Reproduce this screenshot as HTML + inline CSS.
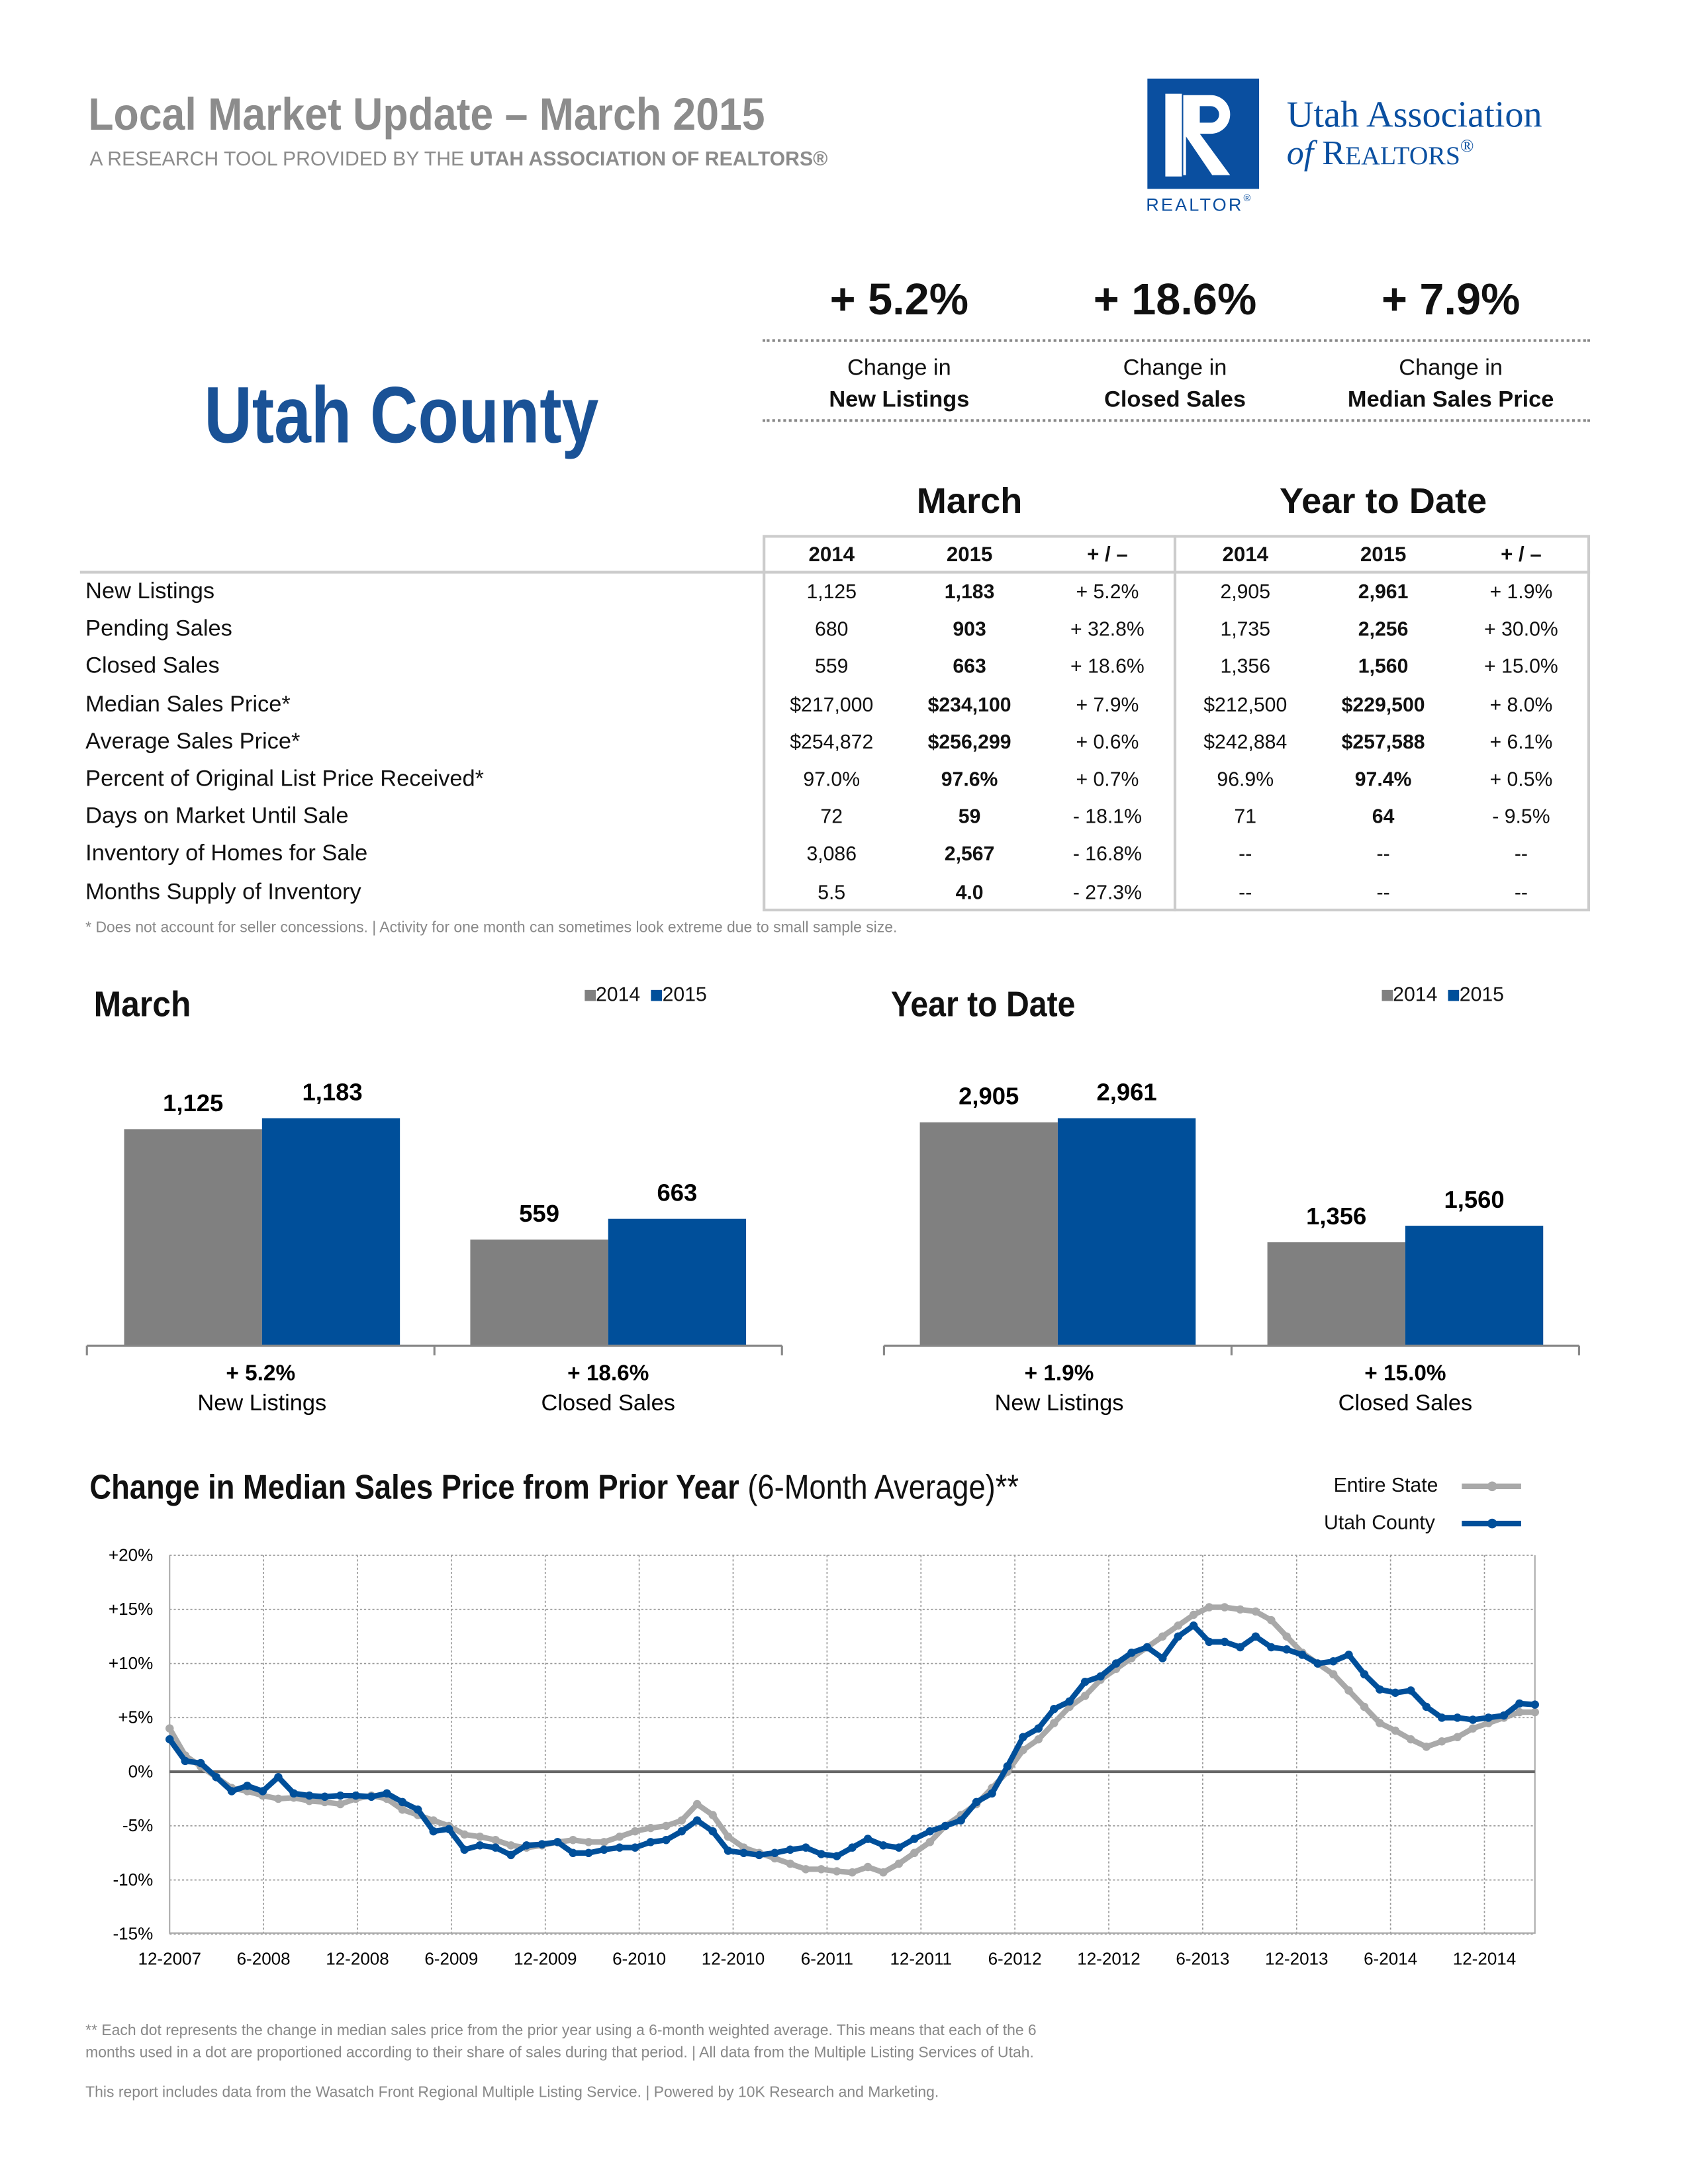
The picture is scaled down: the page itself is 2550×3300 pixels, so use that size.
<!DOCTYPE html>
<html><head><meta charset="utf-8">
<style>
html,body{margin:0;padding:0;background:#fff;}
body{width:2550px;height:3300px;overflow:hidden;}
#w{position:absolute;left:0;top:0;width:1224px;height:1584px;transform:scale(2.08333);transform-origin:0 0;font-family:"Liberation Sans",sans-serif;color:#111;}
.a{position:absolute;white-space:nowrap;}
.n{font-weight:bold;transform-origin:0 0;}
.c{transform:translateX(-50%);text-align:center;}
.row{position:absolute;left:62px;font-size:16.5px;}
.cell{position:absolute;font-size:14.5px;transform:translateX(-50%);white-space:nowrap;}
</style></head><body><div id="w">
<div class="a n" style="left:64px;top:64px;font-size:33px;color:#8c8c8c;transform:scaleX(0.91);">Local Market Update – March 2015</div>
<div class="a" style="left:65px;top:108px;font-size:14.5px;color:#8c8c8c;">A RESEARCH TOOL PROVIDED BY THE <b>UTAH ASSOCIATION OF REALTORS®</b></div>
<!-- logo -->
<div class="a" style="left:832px;top:57px;width:81px;height:80px;background:#0a4fa0;"></div>
<div class="a" style="left:845px;top:68px;width:34px;height:60px;border-left:12px solid #fff;box-sizing:border-box;"></div>
<svg class="a" style="left:832px;top:57px" width="81" height="80"><path d="M26 12 H46 a14 14 0 0 1 0 28 H38 L60 70 H47 L28 42 V70 H26Z" fill="#fff"/><path d="M38 20 H46 a6 6 0 0 1 0 12 H38Z" fill="#0a4fa0"/></svg>
<div class="a" style="left:831px;top:141px;font-size:13px;letter-spacing:1.5px;color:#0a4fa0;">REALTOR<span style="font-size:7px;vertical-align:top">®</span></div>
<div class="a" style="left:933px;top:68px;font-family:'Liberation Serif',serif;font-size:27px;color:#0a4fa0;">Utah Association</div>
<div class="a" style="left:933px;top:98px;font-family:'Liberation Serif',serif;font-size:25px;color:#0a4fa0;"><i>of</i> R<span style="font-size:19px">EALTORS</span><span style="font-size:13px;vertical-align:top">®</span></div>

<div class="a n" style="left:148px;top:268px;font-size:58px;color:#1a5296;transform:scaleX(0.83);">Utah County</div>
<div class="a c" style="left:652px;top:199px;font-size:32px;font-weight:bold;">+ 5.2%</div>
<div class="a c" style="left:852px;top:199px;font-size:32px;font-weight:bold;">+ 18.6%</div>
<div class="a c" style="left:1052px;top:199px;font-size:32px;font-weight:bold;">+ 7.9%</div>
<div class="a" style="left:553px;top:246px;width:600px;border-top:2px dotted #888;"></div>
<div class="a" style="left:553px;top:304px;width:600px;border-top:2px dotted #888;"></div>
<div class="a c" style="left:652px;top:256px;font-size:16.5px;line-height:23px;">Change in<br><b>New Listings</b></div>
<div class="a c" style="left:852px;top:256px;font-size:16.5px;line-height:23px;">Change in<br><b>Closed Sales</b></div>
<div class="a c" style="left:1052px;top:256px;font-size:16.5px;line-height:23px;">Change in<br><b>Median Sales Price</b></div>

<div class="a c" style="left:703px;top:348px;font-size:26px;font-weight:bold;">March</div>
<div class="a c" style="left:1003px;top:348px;font-size:26px;font-weight:bold;">Year to Date</div>
<div class="a" style="left:553px;top:388px;width:600px;height:273px;border:2px solid #ccc;box-sizing:border-box;"></div>
<div class="a" style="left:851px;top:388px;width:2px;height:273px;background:#ccc;"></div>
<div class="a" style="left:58px;top:414px;width:1095px;height:2px;background:#ccc;"></div>
<div id="tbl"></div>
<div class="a" style="left:62px;top:667px;font-size:11px;color:#888;">* Does not account for seller concessions.  |  Activity for one month can sometimes look extreme due to small sample size.</div>

<!-- bar charts -->
<div class="a n" style="left:68px;top:713px;font-size:26px;transform:scaleX(0.92);">March</div>
<div class="a n" style="left:646px;top:713px;font-size:26px;transform:scaleX(0.89);">Year to Date</div>
<div class="a" style="left:424px;top:714px;font-size:14.5px;"><span style="display:inline-block;width:8px;height:8px;background:#808080"></span>2014 <span style="display:inline-block;width:8px;height:8px;background:#004f9a;margin-left:4px"></span>2015</div>
<div class="a" style="left:1002px;top:714px;font-size:14.5px;"><span style="display:inline-block;width:8px;height:8px;background:#808080"></span>2014 <span style="display:inline-block;width:8px;height:8px;background:#004f9a;margin-left:4px"></span>2015</div>
<svg class="a" style="left:0;top:0" width="1224" height="1584">
<g fill="#808080"><rect x="90" y="819" width="100" height="157"/><rect x="341" y="899" width="100" height="77"/><rect x="667" y="814" width="100" height="162"/><rect x="919" y="901" width="100" height="75"/></g>
<g fill="#004f9a"><rect x="190" y="811" width="100" height="165"/><rect x="441" y="884" width="100" height="92"/><rect x="767" y="811" width="100" height="165"/><rect x="1019" y="889" width="100" height="87"/></g>
<g stroke="#888" stroke-width="1.5"><path d="M63 976H567M63 976v7M315 976v7M567 976v7M641 976H1145M641 976v7M893 976v7M1145 976v7"/></g>
<g font-family="Liberation Sans" font-weight="bold" font-size="17.5" text-anchor="middle">
<text x="140" y="806">1,125</text><text x="241" y="798">1,183</text><text x="391" y="886">559</text><text x="491" y="871">663</text>
<text x="717" y="801">2,905</text><text x="817" y="798">2,961</text><text x="969" y="888">1,356</text><text x="1069" y="876">1,560</text>
<text x="189" y="1001" font-size="16">+ 5.2%</text><text x="441" y="1001" font-size="16">+ 18.6%</text><text x="768" y="1001" font-size="16">+ 1.9%</text><text x="1019" y="1001" font-size="16">+ 15.0%</text>
</g>
<g font-family="Liberation Sans" font-size="16.5" text-anchor="middle">
<text x="190" y="1023">New Listings</text><text x="441" y="1023">Closed Sales</text><text x="768" y="1023">New Listings</text><text x="1019" y="1023">Closed Sales</text>
</g>
<g id="lc"></g>
</svg>
<div class="a n" style="left:65px;top:1065px;font-size:25px;transform:scaleX(0.87);">Change in Median Sales Price from Prior Year <span style="font-weight:normal;">(6-Month Average)**</span></div>
<div class="a" style="left:967px;top:1070px;font-size:14.5px;">Entire State</div>
<div class="a" style="left:960px;top:1097px;font-size:14.5px;">Utah County</div>
<div class="a" style="left:62px;top:1465px;font-size:11px;color:#888;line-height:16px;">** Each dot represents the change in median sales price from the prior year using a 6-month weighted average. This means that each of the 6<br>months used in a dot are proportioned according to their share of sales during that period.  |  All data from the Multiple Listing Services of Utah.</div>
<div class="a" style="left:62px;top:1512px;font-size:11px;color:#888;">This report includes data from the Wasatch Front Regional Multiple Listing Service.  |  Powered by 10K Research and Marketing.</div>
</div>
<script>
var rows=[["New Listings","1,125","1,183","+ 5.2%","2,905","2,961","+ 1.9%"],["Pending Sales","680","903","+ 32.8%","1,735","2,256","+ 30.0%"],["Closed Sales","559","663","+ 18.6%","1,356","1,560","+ 15.0%"],["Median Sales Price*","$217,000","$234,100","+ 7.9%","$212,500","$229,500","+ 8.0%"],["Average Sales Price*","$254,872","$256,299","+ 0.6%","$242,884","$257,588","+ 6.1%"],["Percent of Original List Price Received*","97.0%","97.6%","+ 0.7%","96.9%","97.4%","+ 0.5%"],["Days on Market Until Sale","72","59","- 18.1%","71","64","- 9.5%"],["Inventory of Homes for Sale","3,086","2,567","- 16.8%","--","--","--"],["Months Supply of Inventory","5.5","4.0","- 27.3%","--","--","--"]];
var cx=[603,703,803,903,1003,1103],h='';
["2014","2015","+ / –","2014","2015","+ / –"].forEach(function(t,i){h+='<div class="cell" style="left:'+cx[i]+'px;top:394px;font-weight:bold;font-size:15px">'+t+'</div>';});
rows.forEach(function(r,j){var y=420+j*27.2;h+='<div class="row" style="top:'+y+'px">'+r[0]+'</div>';for(var i=1;i<7;i++){h+='<div class="cell" style="left:'+cx[i-1]+'px;top:'+(y+2)+'px;'+((i==2||i==5)&&r[i]!='--'?'font-weight:bold':'')+'">'+r[i]+'</div>';}});
document.getElementById('tbl').innerHTML=h;
var uc=[3,1,0.8,-0.5,-1.8,-1.3,-1.8,-0.5,-2,-2.2,-2.3,-2.2,-2.2,-2.3,-2,-2.8,-3.5,-5.5,-5.3,-7.2,-6.8,-7,-7.7,-6.8,-6.7,-6.5,-7.5,-7.5,-7.2,-7,-7,-6.5,-6.3,-5.5,-4.5,-5.5,-7.3,-7.5,-7.7,-7.5,-7.2,-7,-7.6,-7.8,-7,-6.2,-6.8,-7,-6.2,-5.5,-5,-4.5,-2.8,-2,0.5,3.2,4,5.8,6.5,8.3,8.8,10,11,11.5,10.5,12.5,13.5,12,12,11.5,12.5,11.5,11.3,10.8,10,10.2,10.8,9,7.6,7.3,7.5,6,5,5,4.8,5,5.2,6.3,6.2];
var es=[4,1.5,0.5,-0.5,-1.5,-1.8,-2.2,-2.5,-2.4,-2.7,-2.8,-3,-2.5,-2.2,-2.5,-3.5,-4,-4.5,-5,-5.8,-6,-6.3,-6.8,-7,-6.8,-6.5,-6.3,-6.5,-6.5,-6,-5.5,-5.2,-5,-4.5,-3,-4,-6,-7,-7.5,-8,-8.5,-9,-9,-9.2,-9.3,-8.8,-9.3,-8.5,-7.5,-6.5,-5,-4,-3,-1.5,0,2,3,4.5,6,7,8.5,9.5,10.5,11.5,12.5,13.5,14.5,15.2,15.2,15,14.8,14,12.5,11,10,9,7.5,6,4.5,3.8,3,2.3,2.8,3.2,4,4.5,5,5.5,5.5];
var X0=123,X1=1113,Y=function(v){return 1285-v*7.85;};
var s='<g stroke="#999" stroke-width="0.8" stroke-dasharray="1.5,1.5" fill="none">';
for(var v=-15;v<=20;v+=5){if(v)s+='<path d="M'+X0+' '+Y(v)+'H'+X1+'"/>';}
var labs=["12-2007","6-2008","12-2008","6-2009","12-2009","6-2010","12-2010","6-2011","12-2011","6-2012","12-2012","6-2013","12-2013","6-2014","12-2014"];
for(var i=1;i<labs.length;i++){var x=X0+i*68.1;s+='<path d="M'+x+' 1128V1402"/>';}
s+='</g><path d="M'+X0+' 1128V1402H'+X1+'V1128" fill="none" stroke="#aaa" stroke-width="1"/>';
s+='<path d="M'+X0+' 1285H'+X1+'" stroke="#666" stroke-width="2"/>';
s+='<g font-family="Liberation Sans" font-size="12.5" text-anchor="end">';
for(var v=-15;v<=20;v+=5){var t=v>0?'+'+v+'%':(v==0?'0%':v+'%');s+='<text x="111" y="'+(Y(v)+4)+'">'+t+'</text>';}
s+='</g><g font-family="Liberation Sans" font-size="12.5" text-anchor="middle">';
labs.forEach(function(l,i){s+='<text x="'+(X0+i*68.1)+'" y="1425">'+l+'</text>';});
s+='</g>';
function ser(d,col){var n=d.length,dx=(1113-X0)/(n-1),p='',c='';d.forEach(function(v,i){var x=X0+i*dx,y=Y(v);p+=(i?'L':'M')+x.toFixed(1)+' '+y.toFixed(1);c+='<circle cx="'+x.toFixed(1)+'" cy="'+y.toFixed(1)+'" r="3" fill="'+col+'"/>';});return '<path d="'+p+'" fill="none" stroke="'+col+'" stroke-width="4" stroke-linejoin="round"/>'+c;}
s+=ser(es,'#a9a9a9')+ser(uc,'#004f9a');
s+='<path d="M1060 1078H1103" stroke="#a9a9a9" stroke-width="4"/><circle cx="1082" cy="1078" r="3.5" fill="#a9a9a9"/>';
s+='<path d="M1060 1105H1103" stroke="#004f9a" stroke-width="4"/><circle cx="1082" cy="1105" r="3.5" fill="#004f9a"/>';
document.getElementById('lc').innerHTML=s;
</script>
</body></html>
